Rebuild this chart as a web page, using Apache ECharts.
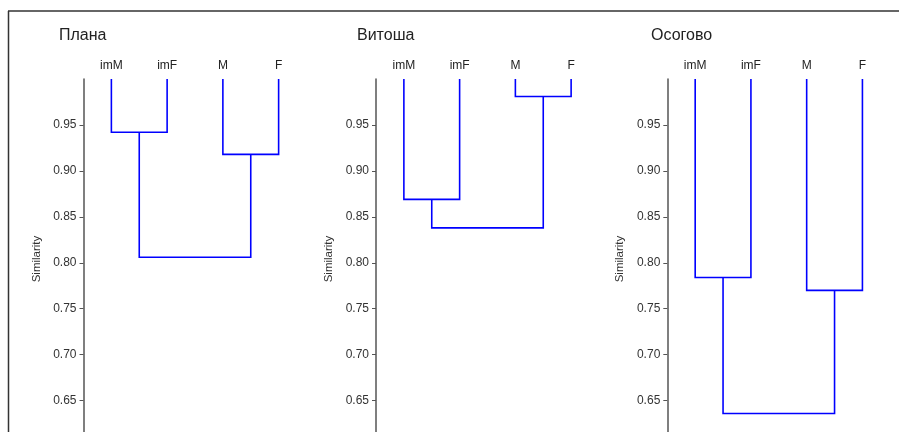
<!DOCTYPE html>
<html>
<head>
<meta charset="utf-8">
<script src="https://cdn.jsdelivr.net/npm/echarts@6/dist/echarts.min.js"></script>
<style>
  html, body { margin: 0; padding: 0; background: #fff; }
  #chart { width: 899px; height: 432px; }
</style>
</head>
<body>
<div id="chart"></div>
<script>
// Leaves of every dendrogram, left to right
const leaves = ['imM', 'imF', 'M', 'F'];
// Mountain regions, one dendrogram each
const regions = ['Плана', 'Витоша', 'Осогово'];
// Similarity at which imM joins imF
const mergeImmImf = [0.942, 0.869, 0.784];
// Similarity at which M joins F
const mergeMF = [0.918, 0.981, 0.770];
// Similarity at which the two pairs join
const mergeRoot = [0.806, 0.838, 0.636];
// Y tick labels
const yTicks = [0.65, 0.70, 0.75, 0.80, 0.85, 0.90, 0.95];

const Y_MIN = 0.6082, Y_MAX = 1.0;
const LEAF_X = [5, 15, 25, 35];
const FONT = 'Liberation Sans, Arial, sans-serif';
const gridLefts = [83.5, 376, 667.3];
const titleLefts = [59, 357, 651];

const grids = [], xAxes = [], yAxes = [], series = [], graphics = [];

// Frame lines (top and left)
graphics.push({ type: 'line', shape: { x1: 8, y1: 11, x2: 899, y2: 11 }, style: { stroke: '#333', lineWidth: 1.5 } });
graphics.push({ type: 'line', shape: { x1: 8.5, y1: 11, x2: 8.5, y2: 432 }, style: { stroke: '#333', lineWidth: 1.5 } });

regions.forEach((name, i) => {
  grids.push({ left: gridLefts[i], top: 79, width: 223, height: 360, outerBoundsMode: 'none', containLabel: false });
  xAxes.push({
    type: 'value', gridIndex: i, min: 0, max: 40, position: 'top',
    axisLine: { show: false }, axisTick: { show: false }, splitLine: { show: false },
    axisLabel: {
      customValues: LEAF_X, margin: 7, color: '#222', fontSize: 12, fontFamily: FONT,
      formatter: v => leaves[LEAF_X.indexOf(v)] || ''
    }
  });
  yAxes.push({
    type: 'value', gridIndex: i, min: Y_MIN, max: Y_MAX,
    name: 'Similarity', nameLocation: 'middle', nameRotate: 90, nameGap: 41,
    nameTextStyle: { color: '#333', fontSize: 11.5, fontFamily: FONT },
    axisLine: { show: true, lineStyle: { color: '#555', width: 1.5 } },
    axisTick: { show: true, customValues: yTicks, length: 4, lineStyle: { color: '#555', width: 1 } },
    axisLabel: {
      customValues: yTicks, margin: 7, color: '#333', fontSize: 12, fontFamily: FONT,
      formatter: v => v.toFixed(2)
    },
    splitLine: { show: false }
  });

  // U-shaped links: [x_left, y_left] -> [x_left, h] -> [x_right, h] -> [x_right, y_right]
  const xa = (LEAF_X[0] + LEAF_X[1]) / 2, xb = (LEAF_X[2] + LEAF_X[3]) / 2;
  const links = [
    [[LEAF_X[0], Y_MAX], [LEAF_X[0], mergeImmImf[i]], [LEAF_X[1], mergeImmImf[i]], [LEAF_X[1], Y_MAX]],
    [[LEAF_X[2], Y_MAX], [LEAF_X[2], mergeMF[i]], [LEAF_X[3], mergeMF[i]], [LEAF_X[3], Y_MAX]],
    [[xa, mergeImmImf[i]], [xa, mergeRoot[i]], [xb, mergeRoot[i]], [xb, mergeMF[i]]]
  ];
  series.push({
    type: 'lines', coordinateSystem: 'cartesian2d', xAxisIndex: i, yAxisIndex: i,
    polyline: true, silent: true,
    lineStyle: { color: '#0000ff', width: 1.6, opacity: 1 },
    data: links.map(c => ({ coords: c }))
  });

  graphics.push({
    type: 'text', left: titleLefts[i], top: 28,
    style: { text: name, fill: '#222', font: '16px ' + FONT }
  });
});

const chart = echarts.init(document.getElementById('chart'), null, { renderer: 'canvas' });
chart.setOption({
  animation: false,
  backgroundColor: '#fff',
  grid: grids, xAxis: xAxes, yAxis: yAxes, series: series,
  graphic: graphics
});
</script>
</body>
</html>
